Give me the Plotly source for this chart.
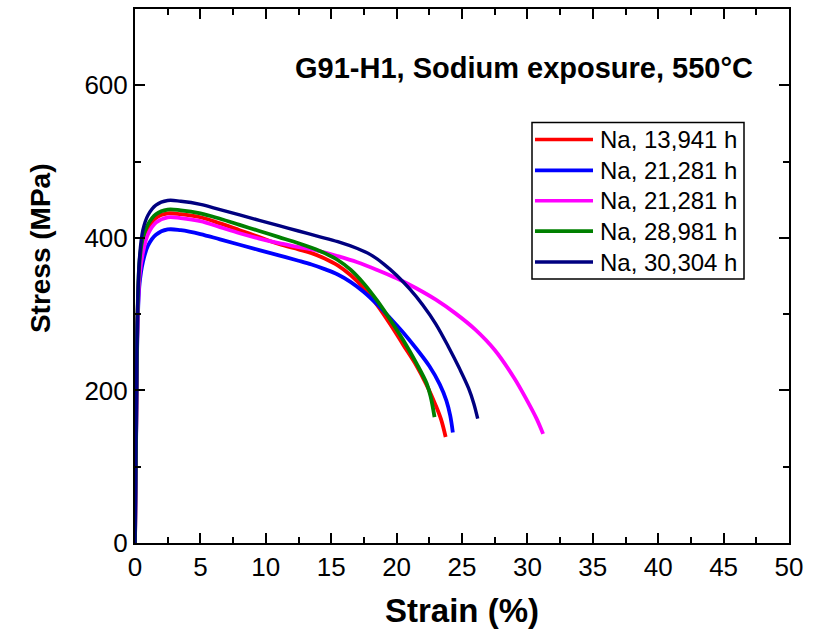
import plotly.graph_objects as go

# Tensile curves of G91-H1 after sodium exposure at 550 °C
series_names = ["Na, 13,941 h", "Na, 21,281 h", "Na, 21,281 h", "Na, 28,981 h", "Na, 30,304 h"]
series_colors = ["#FF0000", "#0000FF", "#FF00FF", "#008000", "#000080"]

strain_red = [0, 0.1, 0.2, 0.35, 0.6, 1.0, 1.6, 2.5, 3.5, 5, 6.5, 8, 9.5, 11, 12.5, 13.5, 14.5, 15.5, 16.5, 17.5,
              18.5, 19.5, 20.5, 21.5, 22.3, 23.0, 23.4, 23.75]
stress_red = [0, 170, 300, 360, 392, 412, 426, 432, 431, 427, 419, 410, 401, 392, 385, 380, 373, 364, 351, 334,
              312, 287, 260, 233, 207, 180, 162, 139]

strain_blue = [0, 0.1, 0.2, 0.35, 0.6, 1.0, 1.6, 2.5, 3.5, 5, 6.5, 8, 9.5, 11, 12.5, 13.5, 14.5, 15.5, 16.5, 17.5,
               18.5, 19.5, 20.5, 21.5, 22.5, 23.3, 23.8, 24.1, 24.3]
stress_blue = [0, 160, 285, 340, 368, 390, 404, 411, 410, 405, 398, 391, 384, 377, 370, 365, 359, 352, 342, 329,
               313, 295, 276, 255, 232, 208, 187, 167, 145]

strain_mag = [0, 0.1, 0.2, 0.35, 0.6, 1.0, 1.6, 2.5, 3.5, 5, 6.5, 8, 9.5, 11, 12.5, 14, 15.5, 17, 18.5, 20,
              21.5, 23, 24.5, 26, 27.5, 29, 30, 30.7, 31.2]
stress_mag = [0, 165, 290, 350, 380, 405, 420, 427, 426, 422, 414, 406, 399, 393, 388, 383, 376, 368, 358, 347,
              334, 319, 301, 280, 253, 216, 186, 163, 143]

strain_green = [0, 0.1, 0.2, 0.35, 0.6, 1.0, 1.6, 2.5, 3.5, 5, 6.5, 8, 9.5, 11, 12.5, 13.5, 14.5, 15.5, 16.5, 17.5,
                18.5, 19.5, 20.5, 21.5, 22.3, 22.6, 22.9]
stress_green = [0, 170, 305, 370, 400, 418, 431, 437, 436, 432, 425, 417, 409, 401, 393, 387, 380, 371, 358, 340,
                318, 293, 266, 236, 209, 192, 165]

strain_navy = [0, 0.1, 0.2, 0.35, 0.6, 1.0, 1.6, 2.5, 3.5, 5, 6.5, 8, 9.5, 11, 12.5, 14, 15.5, 17, 18, 19,
               20, 21, 22, 23, 24, 24.8, 25.5, 25.9, 26.2]
stress_navy = [0, 180, 310, 375, 410, 430, 443, 449, 448, 444, 437, 430, 423, 416, 409, 402, 395, 386, 378, 366,
               351, 333, 312, 287, 256, 229, 203, 183, 163]

x_sets = [strain_red, strain_blue, strain_mag, strain_green, strain_navy]
y_sets = [stress_red, stress_blue, stress_mag, stress_green, stress_navy]
widths = [3.8, 3.8, 3.8, 3.8, 3.4]

FONT = "Liberation Sans, Arial, sans-serif"

fig = go.Figure()
for xs, ys, name, col, w in zip(x_sets, y_sets, series_names, series_colors, widths):
    fig.add_trace(go.Scatter(
        x=xs, y=ys, mode="lines", name=name,
        line=dict(color=col, width=w, shape="spline", smoothing=1.0),
        showlegend=False,
    ))

axis_common = dict(
    showline=True, linecolor="black", linewidth=2, mirror="allticks",
    ticks="inside", ticklen=10, tickwidth=2, tickcolor="black",
    showgrid=False, zeroline=False,
    tickfont=dict(family=FONT, size=26, color="black"),
)

fig.update_xaxes(
    range=[0, 50], dtick=5, tick0=0,
    minor=dict(ticks="inside", ticklen=6, tickwidth=2, tickcolor="black", dtick=2.5, tick0=0, showgrid=False),
    title=dict(text="<b>Strain (%)</b>", font=dict(family=FONT, size=33, color="black"), standoff=18),
    **axis_common,
)
fig.update_yaxes(
    range=[0, 700], dtick=200, tick0=0,
    minor=dict(ticks="inside", ticklen=6, tickwidth=2, tickcolor="black", dtick=100, tick0=0, showgrid=False),
    **axis_common,
)

# Plot-area geometry (pixels) used to place the annotations and legend box
W, H = 828, 636
ML, MR, MT, MB = 135, 39, 7, 93
pw, ph = W - ML - MR, H - MT - MB


def px2paper(px, py):
    return (px - ML) / pw, (H - MB - py) / ph


shapes = []
annotations = []

tx, ty = px2paper(755, 66)
annotations.append(dict(
    x=tx, y=ty, xref="paper", yref="paper", xanchor="right", yanchor="middle",
    text="<b>G91-H1, Sodium exposure, 550°C</b>", showarrow=False,
    font=dict(family=FONT, size=29, color="black"),
))

# Y-axis title
yx, yy = px2paper(40, 247)
annotations.append(dict(
    x=yx, y=yy, xref="paper", yref="paper", xanchor="center", yanchor="middle",
    text="<b>Stress (MPa)</b>", textangle=-90, showarrow=False,
    font=dict(family=FONT, size=28, color="black"),
))

# Legend box drawn by hand
x0, y0 = px2paper(532, 278)
x1, y1 = px2paper(744, 121)
shapes.append(dict(type="rect", xref="paper", yref="paper", x0=x0, y0=y0, x1=x1, y1=y1,
                   line=dict(color="black", width=1.5), fillcolor="white", layer="above"))
row_y = [138, 169, 199.5, 230, 261]
for name, col, ry in zip(series_names, series_colors, row_y):
    lx0, ly = px2paper(535, ry)
    lx1, _ = px2paper(593, ry)
    shapes.append(dict(type="line", xref="paper", yref="paper", x0=lx0, x1=lx1, y0=ly, y1=ly,
                       line=dict(color=col, width=3.6), layer="above"))
    tx0, _ = px2paper(598, ry)
    annotations.append(dict(
        x=tx0, y=ly, xref="paper", yref="paper", xanchor="left", yanchor="middle",
        text=name, showarrow=False, font=dict(family=FONT, size=24, color="black"),
    ))

fig.update_layout(
    width=W, height=H,
    margin=dict(l=ML, r=MR, t=MT, b=MB),
    paper_bgcolor="white", plot_bgcolor="white",
    shapes=shapes, annotations=annotations,
    showlegend=False,
)

fig.write_html("out.html")
